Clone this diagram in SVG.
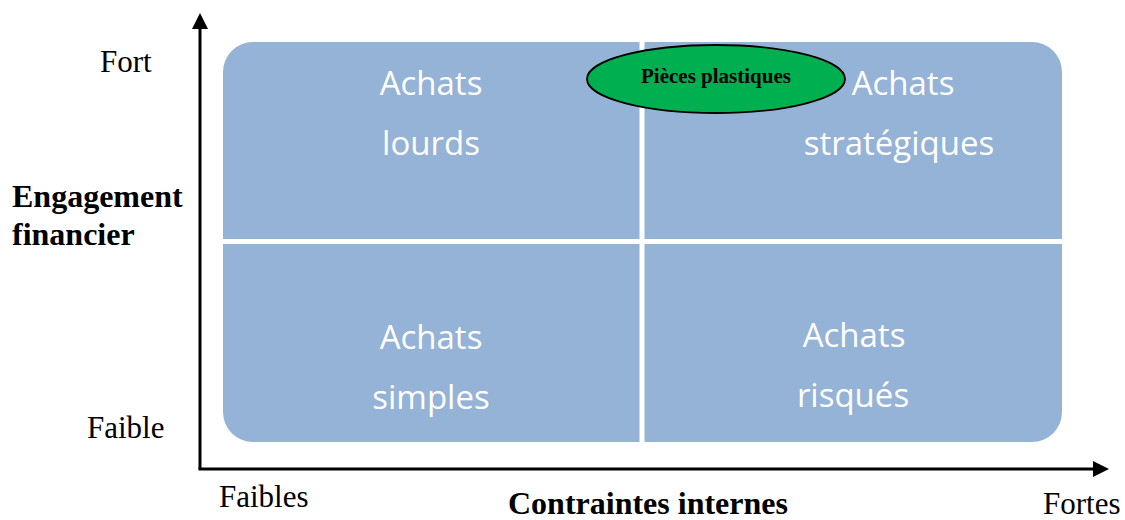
<svg xmlns="http://www.w3.org/2000/svg" width="1125" height="520" viewBox="0 0 1125 520">
<style>
.q{font-family:"Open Sans","Noto Sans",sans-serif;font-size:33px;fill:#ffffff;text-anchor:middle}
.lab{font-family:"Liberation Serif","Times New Roman",serif;font-size:31px;fill:#000}
.ttl{font-family:"Liberation Serif","Times New Roman",serif;font-size:32px;font-weight:bold;fill:#000}
.ax{stroke:#000;stroke-width:3;fill:none}
.div{stroke:#fff;stroke-width:5}
</style>
<defs>
<marker id="ah" viewBox="0 0 16 16" refX="0" refY="8" markerWidth="16" markerHeight="16" markerUnits="userSpaceOnUse" orient="auto">
<path d="M0,0 L16,8 L0,16 z" fill="#000"/>
</marker>
</defs>
<rect width="1125" height="520" fill="#fff"/>
<g id="matrix">
<rect x="223" y="42" width="839" height="400" rx="30" ry="30" fill="#95B3D7"/>
<line class="div" x1="642" y1="42" x2="642" y2="442"/>
<line class="div" x1="223" y1="241.5" x2="1062" y2="241.5"/>
</g>
<g id="q-lourds">
<text class="q" x="431" y="95">Achats</text>
<text class="q" x="431" y="155">lourds</text>
</g>
<g id="q-strategiques">
<text class="q" x="903" y="95">Achats</text>
<text class="q" x="899" y="155">stratégiques</text>
</g>
<g id="q-simples">
<text class="q" x="431" y="349">Achats</text>
<text class="q" x="431" y="409">simples</text>
</g>
<g id="q-risques">
<text class="q" x="854" y="347">Achats</text>
<text class="q" x="853" y="407">risqués</text>
</g>
<g id="connectors">
<path class="ax" d="M200,469 L200,29" marker-end="url(#ah)"/>
<path class="ax" d="M198.5,469 L1093,469" marker-end="url(#ah)"/>
</g>
<g id="pieces">
<ellipse cx="716" cy="79" rx="129" ry="34" fill="#00B050" stroke="#000" stroke-width="1.8"/>
<text x="716" y="83" text-anchor="middle" font-family="'Liberation Serif','Times New Roman',serif" font-size="21" font-weight="bold" fill="#000">Pièces plastiques</text>
</g>
<g id="labels">
<text class="lab" x="100" y="72">Fort</text>
<text class="lab" x="87" y="438">Faible</text>
<text class="ttl" x="12" y="207">Engagement</text>
<text class="ttl" x="12" y="245">financier</text>
<text class="lab" x="219" y="507">Faibles</text>
<text class="ttl" x="508" y="514">Contraintes internes</text>
<text class="lab" x="1043" y="514">Fortes</text>
</g>
</svg>
